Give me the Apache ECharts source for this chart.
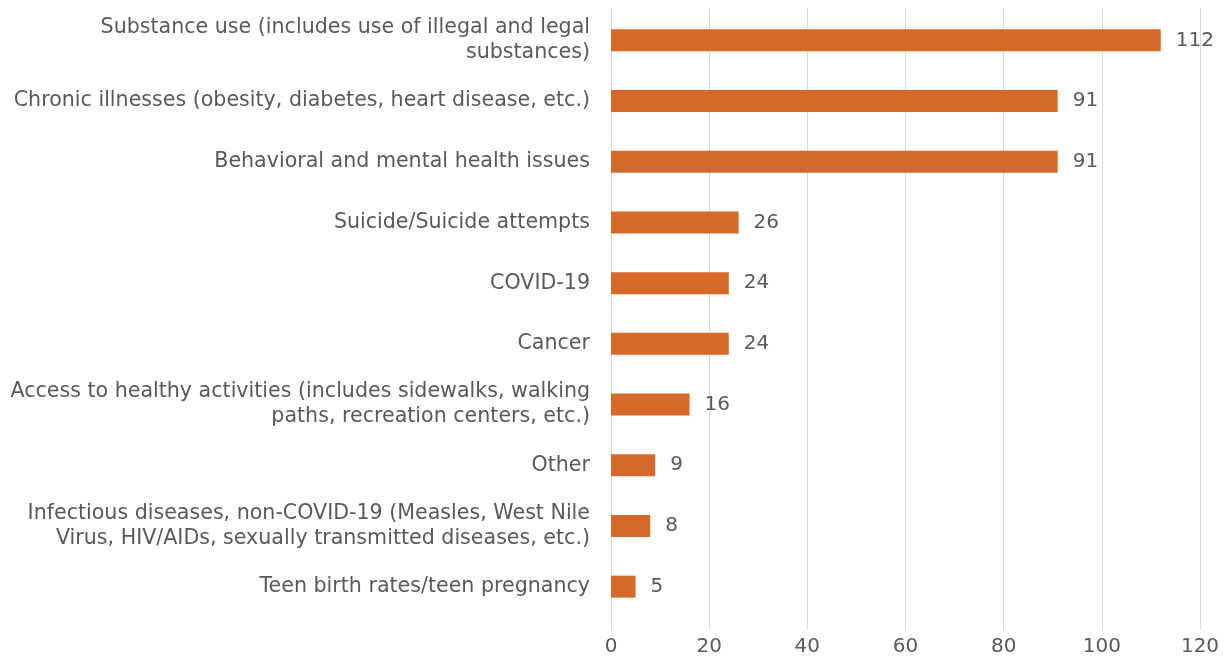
<!DOCTYPE html>
<html>
<head>
<meta charset="utf-8">
<script src="https://cdn.jsdelivr.net/npm/echarts@6/dist/echarts.min.js"></script>
<style>
html,body{margin:0;padding:0;background:#fff;}
#chart{width:1227px;height:658px;}
</style>
</head>
<body>
<div id="chart"></div>
<script>
const categories = [
  "Substance use (includes use of illegal and legal\nsubstances)",
  "Chronic illnesses (obesity, diabetes, heart disease, etc.)",
  "Behavioral and mental health issues",
  "Suicide/Suicide attempts",
  "COVID-19",
  "Cancer",
  "Access to healthy activities (includes sidewalks, walking\npaths, recreation centers, etc.)",
  "Other",
  "Infectious diseases, non-COVID-19 (Measles, West Nile\nVirus, HIV/AIDs, sexually transmitted diseases, etc.)",
  "Teen birth rates/teen pregnancy"
];
const values = [112, 91, 91, 26, 24, 24, 16, 9, 8, 5];
const xTicks = [0, 20, 40, 60, 80, 100, 120];

const chart = echarts.init(document.getElementById('chart'), null, {renderer: 'canvas'});
const font = '"DejaVu Sans", Verdana, sans-serif';
chart.setOption({
  animation: false,
  backgroundColor: '#ffffff',
  grid: [
    {left: 611, right: 27, top: 10, bottom: 41, containLabel: false},
    {left: 611, right: 27, top: 8, bottom: 28, containLabel: false}
  ],
  xAxis: [
    {
      type: 'value',
      gridIndex: 0,
      min: xTicks[0],
      max: xTicks[xTicks.length - 1],
      interval: 20,
      axisLine: {show: false},
      axisTick: {show: false},
      splitLine: {show: false},
      axisLabel: {color: '#595959', fontFamily: font, fontSize: 20, margin: 20}
    },
    {
      type: 'value',
      gridIndex: 1,
      min: xTicks[0],
      max: xTicks[xTicks.length - 1],
      interval: 20,
      axisLine: {show: false},
      axisTick: {show: false},
      axisLabel: {show: false},
      splitLine: {show: true, lineStyle: {color: '#d9d9d9', width: 1}}
    }
  ],
  yAxis: [
    {
      type: 'category',
      gridIndex: 0,
      data: categories,
      inverse: true,
      axisLine: {show: false},
      axisTick: {show: false},
      axisLabel: {color: '#595959', fontFamily: font, fontSize: 20.6, margin: 21, align: 'right', lineHeight: 25}
    },
    {
      type: 'value',
      gridIndex: 1,
      show: false
    }
  ],
  series: [{
    type: 'bar',
    xAxisIndex: 0,
    yAxisIndex: 0,
    data: values,
    barWidth: 22,
    z: 5,
    itemStyle: {color: '#d4692a'},
    label: {show: true, position: 'right', distance: 15, color: '#595959', fontFamily: font, fontSize: 20}
  }]
});
</script>
</body>
</html>
